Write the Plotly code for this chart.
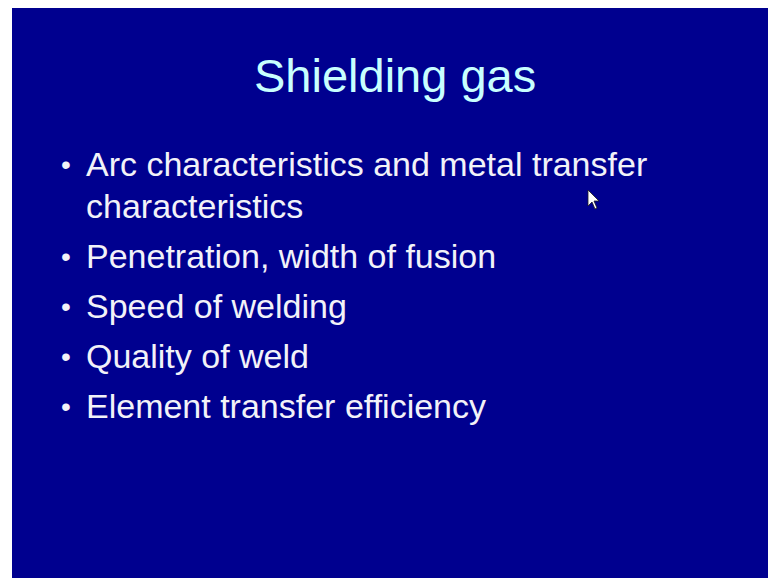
import plotly.graph_objects as go

title_text = "Shielding gas"
bullet_items = [
    ["Arc characteristics and metal transfer", "characteristics"],
    ["Penetration, width of fusion"],
    ["Speed of welding"],
    ["Quality of weld"],
    ["Element transfer efficiency"],
]

W, H = 768, 578
BG = "#00008F"
TITLE_COLOR = "#C8FFFF"
TEXT_COLOR = "#F2F2F8"
FONT = "Liberation Sans, Arial, sans-serif"

fig = go.Figure()

shapes = [
    dict(type="rect", xref="x", yref="y", x0=12, x1=W, y0=8, y1=H,
         fillcolor=BG, line=dict(width=0), layer="below"),
    # mouse cursor
    dict(type="path", xref="x", yref="y",
         path="M 588 190 L 588 206 L 592 202 L 595 209 L 597 208 L 594 201 L 599 201 Z",
         fillcolor="white", line=dict(color="#202020", width=0.8)),
]

annotations = [
    dict(text=title_text, x=395, y=75, xref="x", yref="y", showarrow=False,
         xanchor="center", yanchor="middle",
         font=dict(family=FONT, size=47, color=TITLE_COLOR)),
]

y = 164
line_gap = 42
item_gap = 50
for item in bullet_items:
    annotations.append(dict(text="•", x=59, y=y, xref="x", yref="y", showarrow=False,
                            xanchor="left", yanchor="middle",
                            font=dict(family=FONT, size=28, color=TEXT_COLOR)))
    for i, line in enumerate(item):
        annotations.append(dict(text=line, x=84, y=y + i * line_gap, xref="x", yref="y",
                                showarrow=False, xanchor="left", yanchor="middle",
                                font=dict(family=FONT, size=34, color=TEXT_COLOR)))
    y += (len(item) - 1) * line_gap + item_gap

fig.update_layout(
    width=W, height=H,
    margin=dict(l=0, r=0, t=0, b=0),
    paper_bgcolor="white", plot_bgcolor="white",
    xaxis=dict(range=[0, W], visible=False, fixedrange=True),
    yaxis=dict(range=[H, 0], visible=False, fixedrange=True),
    shapes=shapes, annotations=annotations, showlegend=False,
)

fig.write_html(
    "out.html",
    config={"displayModeBar": False},
    post_script="document.body.style.margin='0';document.body.style.overflow='hidden';",
)
